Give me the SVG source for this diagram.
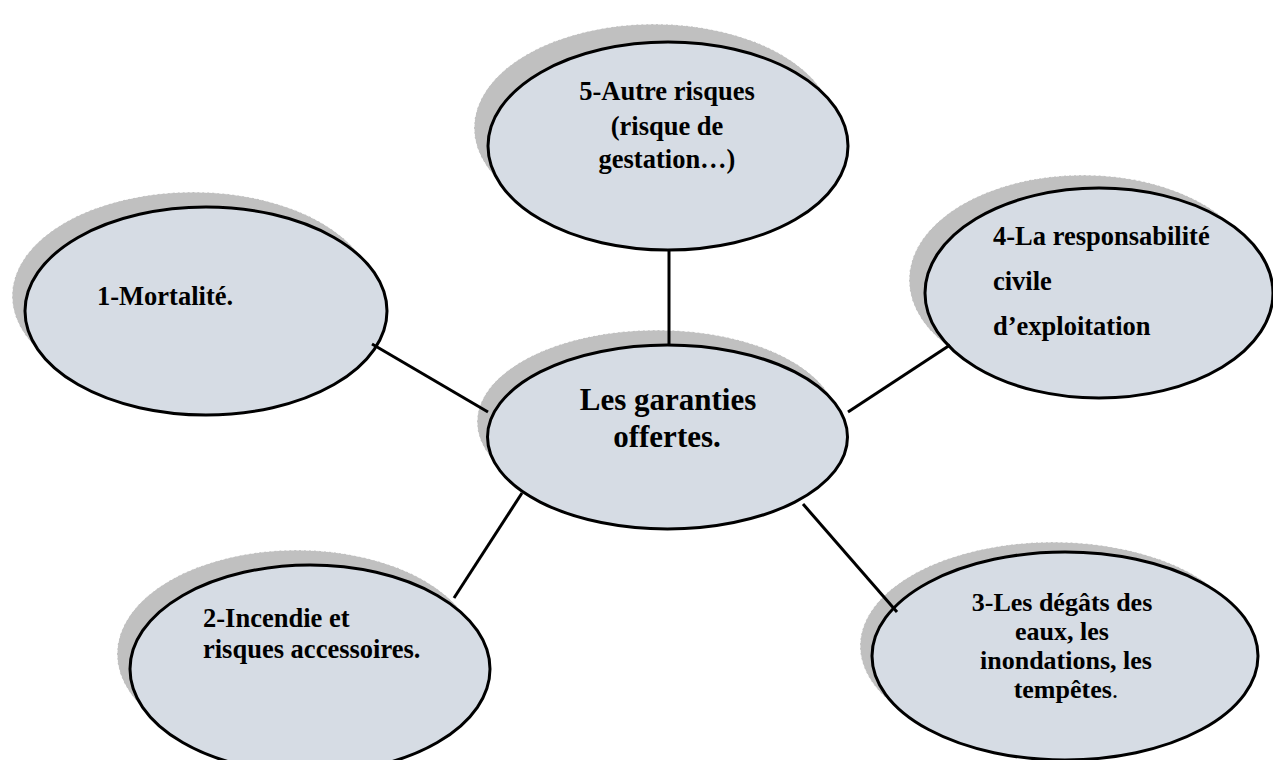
<svg xmlns="http://www.w3.org/2000/svg" width="1273" height="760" viewBox="0 0 1273 760">
<style>
.sh{fill:#c0c0c0;stroke:#ffffff;stroke-width:1;stroke-dasharray:3 2}
.el{fill:#d6dce4;stroke:#000;stroke-width:3}
.t{font-family:"Liberation Serif","Times New Roman",serif;font-weight:bold;font-size:26.5px;fill:#000}
.tc{font-size:31px}
.t3{font-size:26px}
.m{text-anchor:middle}
.cn{stroke:#000;stroke-width:3;fill:none}
</style>
<rect width="1273" height="760" fill="#fff"/>
<g id="node-5">
<ellipse class="sh" cx="654" cy="128" rx="180" ry="104"/>
<ellipse class="el" cx="668" cy="146" rx="180" ry="104"/>
<text class="t m" x="667" y="100">5-Autre risques</text>
<text class="t m" x="667" y="135">(risque de</text>
<text class="t m" x="667" y="168">gestation…)</text>
</g>
<g id="node-1">
<ellipse class="sh" cx="193" cy="296" rx="181" ry="104"/>
<ellipse class="el" cx="206" cy="311" rx="181" ry="104"/>
<text class="t" x="97" y="305">1-Mortalité.</text>
</g>
<g id="node-center">
<ellipse class="sh" cx="657" cy="422" rx="180" ry="92"/>
<ellipse class="el" cx="667.5" cy="437" rx="180" ry="92"/>
<text class="t tc m" x="668" y="410">Les garanties</text>
<text class="t tc m" x="667" y="447">offertes.</text>
</g>
<g id="node-4">
<ellipse class="sh" cx="1083" cy="280" rx="174" ry="105"/>
<ellipse class="el" cx="1099" cy="293" rx="174" ry="105"/>
<text class="t" x="993" y="245">4-La responsabilité</text>
<text class="t" x="993" y="290">civile</text>
<text class="t" x="993" y="335">d’exploitation</text>
</g>
<g id="node-2">
<ellipse class="sh" cx="297" cy="654" rx="180" ry="104"/>
<ellipse class="el" cx="310" cy="669" rx="180" ry="104"/>
<text class="t" x="203" y="627">2-Incendie et</text>
<text class="t" x="203" y="658">risques accessoires.</text>
</g>
<g id="node-3">
<ellipse class="sh" cx="1053" cy="646" rx="193" ry="104"/>
<ellipse class="el" cx="1065" cy="656" rx="193" ry="104"/>
<text class="t t3 m" x="1062" y="611">3-Les dégâts des</text>
<text class="t t3 m" x="1062" y="640">eaux, les</text>
<text class="t t3 m" x="1066" y="669">inondations, les</text>
<text class="t t3 m" x="1066" y="698">tempêtes<tspan font-weight="normal">.</tspan></text>
</g>
<g id="connectors">
<line class="cn" x1="669" y1="250" x2="669" y2="345"/>
<line class="cn" x1="372" y1="344" x2="488" y2="412"/>
<line class="cn" x1="950" y1="345" x2="848" y2="412"/>
<line class="cn" x1="522" y1="493" x2="454" y2="598"/>
<line class="cn" x1="803" y1="504" x2="897" y2="612"/>
</g>
</svg>
